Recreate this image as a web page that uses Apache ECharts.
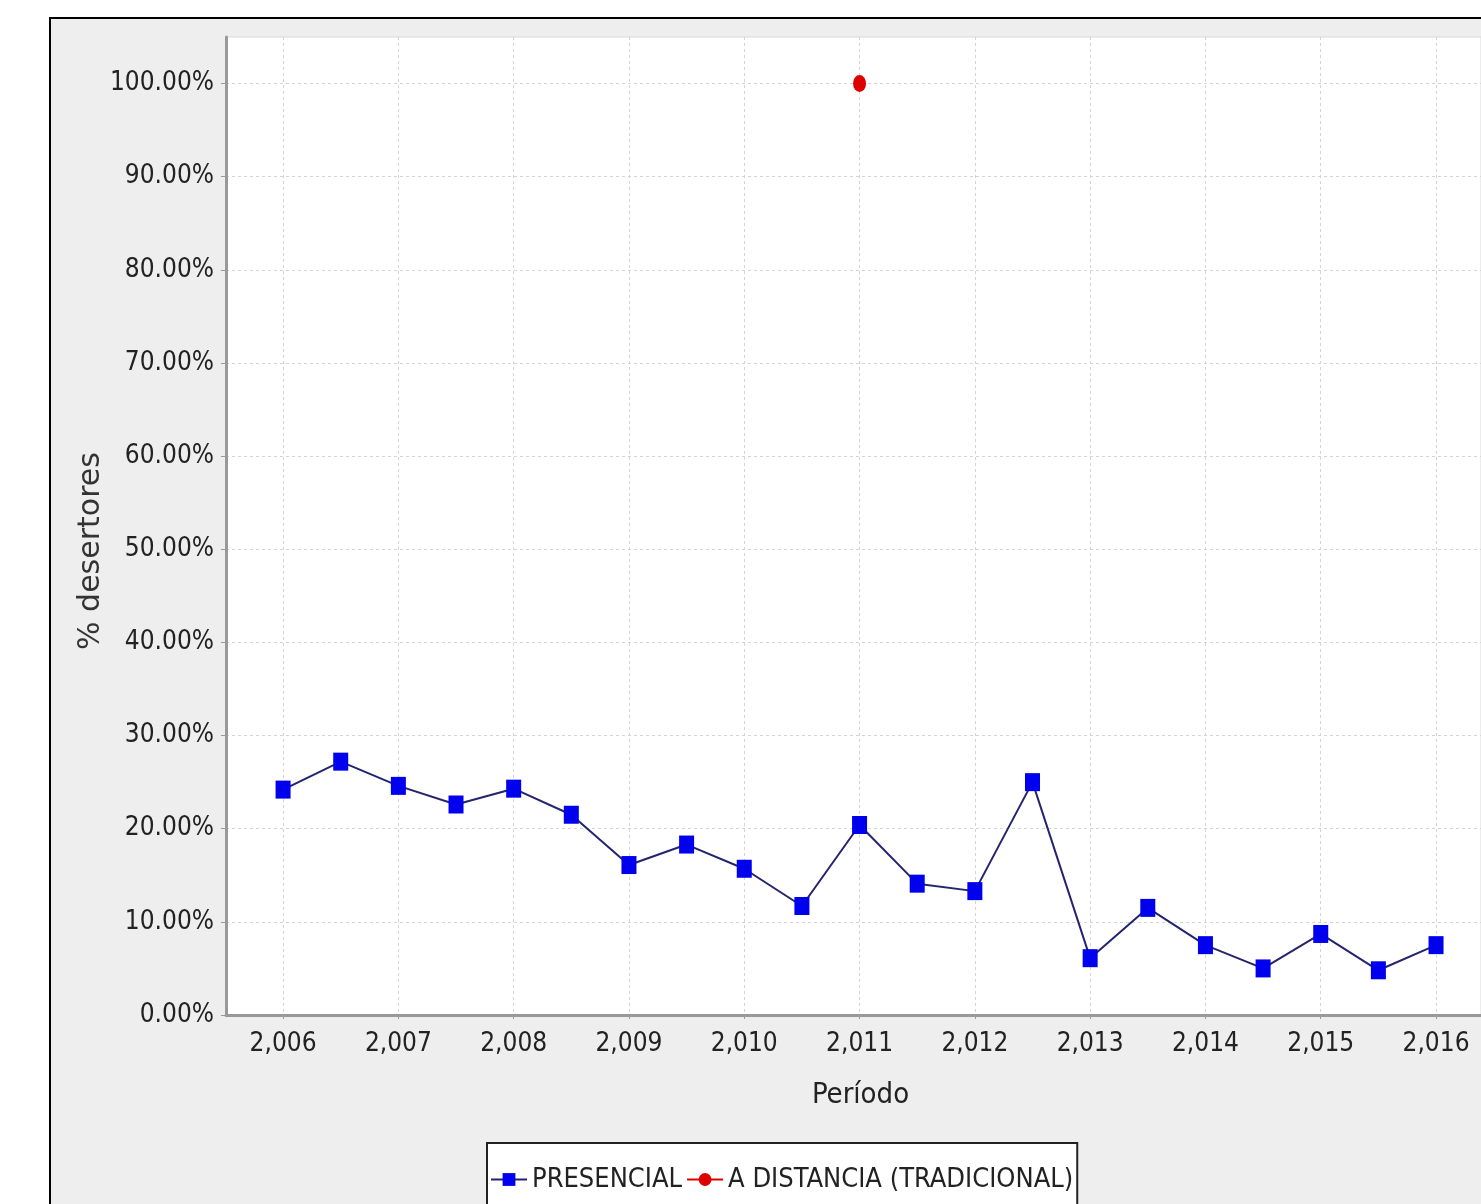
<!DOCTYPE html>
<html>
<head>
<meta charset="utf-8">
<script src="https://cdn.jsdelivr.net/npm/echarts@6/dist/echarts.min.js"></script>
<style>
  html, body { margin: 0; padding: 0; background: #fff; }
  #Map { width: 1481px; height: 1204px; }
</style>
</head>
<body>
<div id="Map"></div>
<script>
var myChart = echarts.init(document.getElementById("Map"));

// datos (semestres)
var periodos = [2006, 2006.5, 2007, 2007.5, 2008, 2008.5, 2009, 2009.5, 2010, 2010.5,
                2011, 2011.5, 2012, 2012.5, 2013, 2013.5, 2014, 2014.5, 2015, 2015.5, 2016];
var presencial = [24.2, 27.2, 24.6, 22.6, 24.3, 21.5, 16.1, 18.3, 15.7, 11.7,
                  20.4, 14.1, 13.3, 25.0, 6.1, 11.5, 7.5, 5.0, 8.7, 4.8, 7.5];
var distanciaPeriodos = [2011];
var distancia = [100];
var xTicks = [2006, 2007, 2008, 2009, 2010, 2011, 2012, 2013, 2014, 2015, 2016];
var yTicks = [0, 10, 20, 30, 40, 50, 60, 70, 80, 90, 100];

var narrow = "'DejaVu Sans Condensed', 'DejaVu Sans', sans-serif";

function pares(xs, ys) {
    return xs.map(function (x, i) { return [x, ys[i]]; });
}

var option = {
    backgroundColor: '#fff',
    graphic: [{
        type: 'rect',
        z: -10,
        shape: { x: 50, y: 18, width: 1500, height: 1300 },
        style: { fill: '#eeeeee', stroke: '#000', lineWidth: 2 }
    }],
    grid: {
        left: 226,
        top: 37,
        right: 0,
        bottom: 189,
        show: true,
        backgroundColor: '#fff',
        borderColor: '#d8d8d8',
        borderWidth: 1
    },
    legend: {
        data: ['PRESENCIAL', 'A DISTANCIA (TRADICIONAL)'],
        left: 487,
        top: 1143,
        orient: 'horizontal',
        backgroundColor: '#fff',
        borderColor: '#222',
        borderWidth: 2,
        padding: [23, 4, 30, 3],
        itemWidth: 36,
        itemHeight: 16,
        itemGap: 4,
        textStyle: { fontFamily: narrow, fontSize: 27, color: '#222' }
    },
    xAxis: {
        type: 'value',
        min: 2005.505,
        max: 2016.39,
        name: 'Período',
        nameLocation: 'middle',
        nameGap: 66,
        nameMoveOverlap: false,
        nameTextStyle: { fontFamily: narrow, fontSize: 29, color: '#222', padding: [0, 0, 0, 14] },
        axisLine: { show: true, lineStyle: { color: '#999', width: 3 } },
        axisTick: { show: true, customValues: xTicks, length: 4, lineStyle: { color: '#999' } },
        axisLabel: {
            customValues: xTicks,
            margin: 16,
            fontFamily: narrow,
            fontSize: 26,
            color: '#222',
            formatter: function (v) { return v.toLocaleString('en-US'); }
        },
        splitLine: { show: true, lineStyle: { color: '#d4d4d4', type: [3, 3], width: 1 } }
    },
    yAxis: {
        type: 'value',
        min: 0,
        max: 105,
        name: '% desertores',
        nameLocation: 'middle',
        nameGap: 120,
        nameMoveOverlap: false,
        nameTextStyle: { fontFamily: 'DejaVu Sans', fontSize: 30, color: '#333', padding: [0, 50, 0, 0] },
        axisLine: { show: true, lineStyle: { color: '#999', width: 3 } },
        axisTick: { show: true, customValues: yTicks, length: 5, lineStyle: { color: '#999' } },
        axisLabel: {
            customValues: yTicks,
            margin: 12,
            fontFamily: narrow,
            fontSize: 26,
            color: '#222',
            formatter: function (v) { return v.toFixed(2) + '%'; }
        },
        splitLine: { show: true, lineStyle: { color: '#d4d4d4', type: [3, 3], width: 1 } }
    },
    series: [
        {
            name: 'PRESENCIAL',
            type: 'line',
            data: pares(periodos, presencial),
            symbol: 'rect',
            symbolSize: [15, 18],
            itemStyle: { color: '#0000ee' },
            lineStyle: { color: '#24246e', width: 2 },
            animation: false
        },
        {
            name: 'A DISTANCIA (TRADICIONAL)',
            type: 'line',
            data: pares(distanciaPeriodos, distancia),
            symbol: 'circle',
            symbolSize: [13, 17],
            itemStyle: { color: '#dd0000' },
            lineStyle: { color: '#dd0000', width: 2 },
            animation: false
        }
    ]
};
myChart.setOption(option);
</script>
</body>
</html>
